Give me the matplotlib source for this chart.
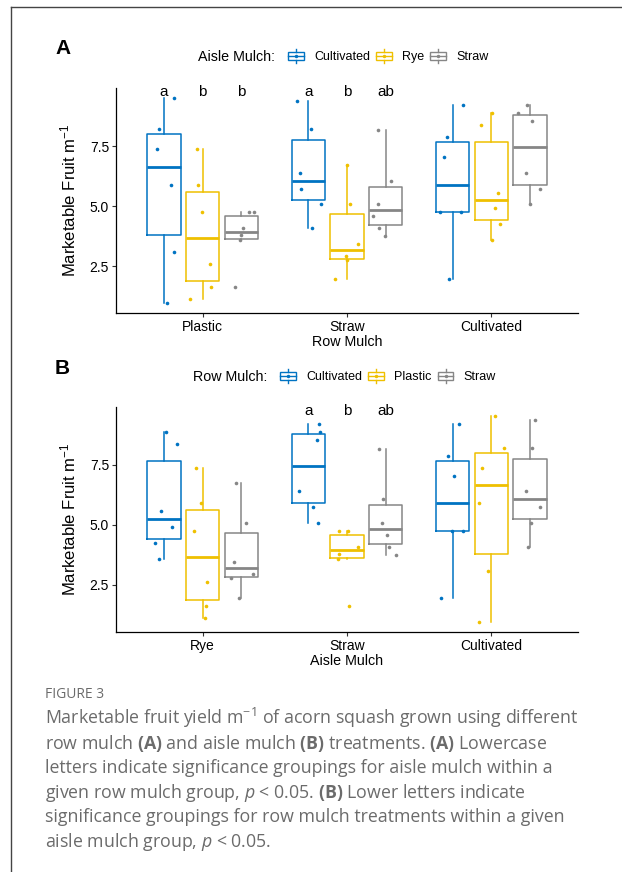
import numpy as np
import matplotlib
matplotlib.use('Agg')
import matplotlib.pyplot as plt
from matplotlib.legend_handler import HandlerBase
from matplotlib.patches import Rectangle, Patch
from matplotlib.lines import Line2D

plt.rcParams['font.family'] = ['Liberation Sans', 'DejaVu Sans']
plt.rcParams['mathtext.fontset'] = 'custom'
plt.rcParams['mathtext.rm'] = 'Open Sans'
plt.rcParams['mathtext.it'] = 'Open Sans:italic'
plt.rcParams['mathtext.bf'] = 'Open Sans:bold'

# marketable fruit per m, one list per (row mulch, aisle mulch) cell
plastic_cultivated = [0.96, 3.10, 5.90, 7.39, 8.22, 9.53]
plastic_rye = [1.14, 1.63, 2.61, 4.75, 5.90, 7.39]
plastic_straw = [1.63, 3.58, 3.79, 4.10, 4.75, 4.75]
straw_cultivated = [4.10, 5.08, 5.74, 6.40, 8.22, 9.38]
straw_rye = [1.96, 2.78, 2.94, 3.44, 5.08, 6.74]
straw_straw = [3.76, 4.10, 4.60, 5.08, 6.07, 8.18]
cultivated_cultivated = [1.96, 4.75, 4.75, 7.06, 7.88, 9.21]
cultivated_rye = [3.60, 4.26, 4.92, 5.57, 8.37, 8.89]
cultivated_straw = [5.08, 5.74, 6.40, 8.54, 8.88, 9.21]

row_groups = ['Plastic', 'Straw', 'Cultivated']
aisle_hues = ['Cultivated', 'Rye', 'Straw']
aisle_groups = ['Rye', 'Straw', 'Cultivated']
row_hues = ['Cultivated', 'Plastic', 'Straw']

letters_a = {'Plastic': ['a', 'b', 'b'], 'Straw': ['a', 'b', 'ab'], 'Cultivated': ['', '', '']}
letters_b = {'Rye': ['', '', ''], 'Straw': ['a', 'b', 'ab'], 'Cultivated': ['', '', '']}

cells = {
    ('Plastic', 'Cultivated'): plastic_cultivated, ('Plastic', 'Rye'): plastic_rye,
    ('Plastic', 'Straw'): plastic_straw, ('Straw', 'Cultivated'): straw_cultivated,
    ('Straw', 'Rye'): straw_rye, ('Straw', 'Straw'): straw_straw,
    ('Cultivated', 'Cultivated'): cultivated_cultivated, ('Cultivated', 'Rye'): cultivated_rye,
    ('Cultivated', 'Straw'): cultivated_straw,
}

pal = ['#0073C2', '#EFC000', '#868686']
rng = np.random.default_rng(7)


class BoxKey(HandlerBase):
    def create_artists(self, legend, orig_handle, xdescent, ydescent, width, height, fontsize, trans):
        c = orig_handle.get_edgecolor()
        cx = -xdescent + width / 2
        cy = -ydescent + height / 2
        bw = width * 0.85
        bh = height * 0.7
        rect = Rectangle((cx - bw / 2, cy - bh / 2), bw, bh, fill=False, ec=c, lw=1, transform=trans)
        wt = Line2D([cx, cx], [cy + bh / 2, cy + height * 0.65], color=c, lw=1, transform=trans)
        wb = Line2D([cx, cx], [cy - height * 0.65, cy - bh / 2], color=c, lw=1, transform=trans)
        med = Line2D([cx - bw / 2, cx + bw / 2], [cy, cy], color=c, lw=1, transform=trans)
        dot = Line2D([cx], [cy], marker='o', ms=2.5, mew=0, color=c, transform=trans)
        return [rect, wt, wb, med, dot]


def draw_panel(ax, groups, hues, getvals, letters, xlabel):
    offsets = [-0.267, 0, 0.267]
    for gi, g in enumerate(groups):
        for hi, h in enumerate(hues):
            vals = getvals(g, h)
            pos = gi + 1 + offsets[hi]
            c = pal[hi]
            ax.boxplot([vals], positions=[pos], widths=0.23, showfliers=False, showcaps=False,
                       boxprops=dict(color=c, lw=1.1), whiskerprops=dict(color=c, lw=1.1),
                       medianprops=dict(color=c, lw=2), manage_ticks=False)
            jit = rng.uniform(-0.09, 0.09, len(vals))
            ax.plot(pos + jit, vals, 'o', color=c, ms=2.6, mew=0, zorder=3)
            if letters[g][hi]:
                ax.text(pos, 9.76, letters[g][hi], ha='center', va='center', fontsize=11)
    ax.set_xlim(0.4, 3.6)
    ax.set_ylim(0.55, 9.93)
    ax.set_xticks([1, 2, 3])
    ax.set_xticklabels(groups)
    ax.set_yticks([2.5, 5.0, 7.5])
    ax.set_yticklabels(['2.5', '5.0', '7.5'])
    ax.tick_params(length=3, width=0.8, color='#333333', labelsize=10, pad=2)
    for s in ['top', 'right']:
        ax.spines[s].set_visible(False)
    for s in ['left', 'bottom']:
        ax.spines[s].set_linewidth(0.9)
    ax.set_xlabel(xlabel, fontsize=10.3, labelpad=1)
    ax.set_ylabel(r'Marketable Fruit m$^{\mathregular{-1}}$', fontsize=12, labelpad=8)


fig = plt.figure(figsize=(6.22, 8.72), dpi=100)
ax1 = fig.add_axes([116 / 622, 1 - 313 / 872, 462 / 622, 225 / 872])
ax2 = fig.add_axes([116 / 622, 1 - 631.7 / 872, 462 / 622, 225 / 872])

draw_panel(ax1, row_groups, aisle_hues, lambda g, h: cells[(g, h)], letters_a, 'Row Mulch')
draw_panel(ax2, aisle_groups, row_hues, lambda g, h: cells[(h, g)], letters_b, 'Aisle Mulch')

fig.text(55 / 622, 1 - 48 / 872, 'A', fontsize=15, fontweight='bold', va='center')
fig.text(55 / 622, 1 - 368 / 872, 'B', fontsize=15, fontweight='bold', va='center')

for title, hues, yc, xk in [('Aisle Mulch:', aisle_hues, 57, 287), ('Row Mulch:', row_hues, 377, 279)]:
    fig.text((xk - 12) / 622, 1 - yc / 872, title, fontsize=10.3, ha='right', va='center')
    handles = [Patch(facecolor='none', edgecolor=pal[i], label=h) for i, h in enumerate(hues)]
    fig.legend(handles=handles, loc='center left', bbox_to_anchor=(xk / 622, 1 - yc / 872),
               ncol=3, frameon=False, fontsize=9, handler_map={Patch: BoxKey()},
               handlelength=1.5, handleheight=1.0, handletextpad=0.7, columnspacing=0.35,
               borderpad=0, borderaxespad=0)

# caption
cap_color = '#6b6b6b'
fig.text(45 / 622, 1 - 698 / 872, 'FIGURE 3', fontsize=10, color=cap_color,
         family='Open Sans', va='baseline')
caption = [
    r'Marketable fruit yield m$^{\mathregular{-1}}$ of acorn squash grown using different',
    r'row mulch $\mathbf{(A)}$ and aisle mulch $\mathbf{(B)}$ treatments. $\mathbf{(A)}$ Lowercase',
    'letters indicate significance groupings for aisle mulch within a',
    r'given row mulch group, $p$ < 0.05. $\mathbf{(B)}$ Lower letters indicate',
    'significance groupings for row mulch treatments within a given',
    r'aisle mulch group, $p$ < 0.05.',
]
for i, line in enumerate(caption):
    fig.text(45 / 622, 1 - (724 + 24.5 * i) / 872, line, fontsize=12.8, color=cap_color,
             family='Open Sans', va='baseline')

# page frame lines
fig.add_artist(Line2D([11 / 622, 11 / 622], [0, 1 - 7 / 872], transform=fig.transFigure, color='#444444', lw=1))
fig.add_artist(Line2D([11 / 622, 1], [1 - 7 / 872, 1 - 7 / 872], transform=fig.transFigure, color='#444444', lw=1))

fig.savefig('out.png', dpi=100)
